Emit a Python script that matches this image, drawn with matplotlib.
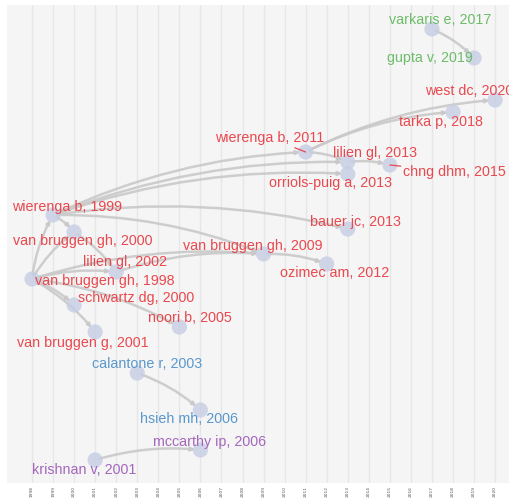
import matplotlib
matplotlib.use("Agg")
from matplotlib import pyplot as plt
from matplotlib.patches import FancyArrowPatch

# nodes of the citation graph
labels = [
    "varkaris e, 2017", "gupta v, 2019", "west dc, 2020", "tarka p, 2018",
    "wierenga b, 2011", "lilien gl, 2013", "chng dhm, 2015", "orriols-puig a, 2013",
    "bauer jc, 2013", "van bruggen gh, 2009", "ozimec am, 2012", "wierenga b, 1999",
    "van bruggen gh, 2000", "lilien gl, 2002", "van bruggen gh, 1998", "schwartz dg, 2000",
    "noori b, 2005", "van bruggen g, 2001", "calantone r, 2003", "hsieh mh, 2006",
    "mccarthy ip, 2006", "krishnan v, 2001",
]
years = [2017, 2019, 2020, 2018, 2011, 2013, 2015, 2013, 2013, 2009, 2012, 1999,
         2000, 2002, 1998, 2000, 2005, 2001, 2003, 2006, 2006, 2001]
# vertical position of each node (row, top = small)
levels = [29, 58, 100, 112, 152, 162, 165, 174, 229, 254, 264, 215,
          232, 272, 279, 305, 327, 332, 373, 410, 450, 460]
groups = ["g", "g", "r", "r", "r", "r", "r", "r", "r", "r", "r", "r",
          "r", "r", "r", "r", "r", "r", "b", "b", "p", "p"]

# citation links (older -> newer)
edges = [
    (14, 11), (14, 12), (14, 13), (14, 15), (14, 17), (14, 16), (14, 9),
    (11, 12), (11, 4), (11, 5), (11, 7), (11, 8), (11, 9),
    (12, 13), (13, 9), (9, 10),
    (4, 3), (4, 2), (4, 5), (5, 6),
    (0, 1), (18, 19), (21, 20),
]

tick_years = list(range(1998, 2021))

colors = {"r": "#e9484e", "g": "#6cbd69", "b": "#5a98cc", "p": "#a466bd"}

# label offsets from node, in pixels (x right, y up)
offsets = [(8, 9), (-44, 0), (-26, 9), (-12, -10), (-36, 14), (27, 9), (65, -7),
           (-17, -9), (8, 7), (-11, 8), (8, -9), (14, 8), (9, -9), (9, 10),
           (73, -2), (62, 7), (11, 9), (-12, -11), (10, 9), (-11, -9), (9, 8), (-11, -10)]
leaders = {4, 6}

fig = plt.figure(figsize=(5.09, 4.98), dpi=100)
ax = fig.add_axes([7 / 509, 15 / 498, 502 / 509, 478 / 498])
ax.set_facecolor("#f5f5f5")

px_year = 21.05
ax.set_xlim(1998 - 25 / px_year, 1998 + 477 / px_year)
ax.set_ylim(483, 5)

for y in tick_years:
    ax.axvline(y, color="#e6e6e6", lw=1, zorder=0)

for s, t in edges:
    arr = FancyArrowPatch((years[s], levels[s]), (years[t], levels[t]),
                          connectionstyle="arc3,rad=-0.1", arrowstyle="-|>",
                          mutation_scale=5, color="#c9c9c9", lw=1.8, alpha=0.9,
                          shrinkA=3, shrinkB=4, zorder=1)
    ax.add_patch(arr)

ax.scatter(years, levels, s=120, color="#c6cee4", alpha=0.8, edgecolors="none", zorder=2)

for i, lab in enumerate(labels):
    dx, dy = offsets[i]
    kw = {}
    if i in leaders:
        kw["arrowprops"] = dict(arrowstyle="-", color=colors[groups[i]], lw=0.9,
                                shrinkA=0, shrinkB=0)
    ax.annotate(lab, (years[i], levels[i]), xytext=(dx * 0.72, dy * 0.72),
                textcoords="offset points", ha="center", va="center",
                fontsize=10.3, family="Liberation Sans", color=colors[groups[i]],
                zorder=3, **kw)

ax.set_xticks(tick_years)
ax.set_xticklabels([str(y) for y in tick_years], rotation=90, fontsize=3.2, color="#555555")
ax.tick_params(axis="x", length=0, pad=2)
ax.set_yticks([])
for sp in ax.spines.values():
    sp.set_visible(False)

plt.savefig("out.png", dpi=100, facecolor="white")
